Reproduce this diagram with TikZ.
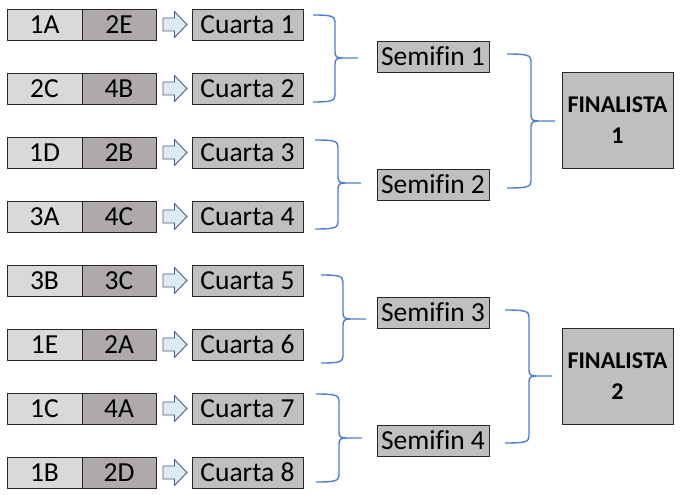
\documentclass[tikz,border=0pt]{standalone}
\usepackage{fontspec}
\setmainfont[Ligatures={NoCommon}]{Carlito}
\usetikzlibrary{calc}
\definecolor{lightc}{HTML}{D9D9D9}
\definecolor{darkc}{HTML}{AEAAAA}
\definecolor{midc}{HTML}{BFBFBF}
\definecolor{arrowf}{HTML}{DEEBF7}
\definecolor{arrowd}{HTML}{4A5F7E}
\definecolor{bracec}{HTML}{4F7FD0}
\newcommand\curly[6]{%
  \draw[brc] (#1,#4) .. controls (#2-4,#4) and (#2,#4+1) .. (#2,#4+7)
    -- (#2,#5-6) .. controls (#2,#5-1) and (#2+2,#5) .. (#2+8,#5) -- (#3,#5)
    (#2+8,#5) .. controls (#2+2,#5) and (#2,#5+1) .. (#2,#5+6)
    -- (#2,#6-7) .. controls (#2,#6-1) and (#2-4,#6) .. (#1,#6);}
\begin{document}
\begin{tikzpicture}[x=1pt,y=-1pt,
  cell/.style={draw=black!85,line width=0.9pt,inner sep=0pt,minimum height=31pt,
    font=\fontsize{27.5}{30}\selectfont},
  light/.style={cell,fill=lightc,minimum width=75pt},
  dark/.style={cell,fill=darkc,minimum width=74pt},
  quarter/.style={cell,fill=midc,minimum width=111pt},
  semi/.style={cell,fill=midc,minimum width=112pt},
  finbox/.style={cell,fill=midc,minimum width=111pt,minimum height=96pt,align=center,
    font=\fontsize{24}{31}\selectfont\bfseries},
  brc/.style={draw=bracec,line width=1.4pt},
  blk/.style={draw=arrowd,fill=arrowf,line width=0.9pt,line join=miter}]
\path[use as bounding box] (0,0) rectangle (681,495);
\foreach \p/\q/\i in {1A/2E/1,2C/4B/2,1D/2B/3,3A/4C/4,3B/3C/5,1E/2A/6,1C/4A/7,1B/2D/8}{
  \pgfmathsetmacro\yy{24.5+64*(\i-1)}
  \node[light] (a\i) at (44.5,\yy) {\p};
  \node[dark] (b\i) at (119,\yy) {\q};
  \node[quarter] (c\i) at (247.5,\yy) {Cuarta \i};
  \draw[blk,shift={(b\i.east)}] (6.5,-6.5) -- (18,-6.5) -- (18,-13) -- (30.5,0)
     -- (18,13) -- (18,6.5) -- (6.5,6.5) -- cycle;
}
\node[semi] (s1) at (433,56.5) {Semifin 1};
\node[semi] (s2) at (433,184.5) {Semifin 2};
\node[semi] (s3) at (433,312.5) {Semifin 3};
\node[semi] (s4) at (433,440.5) {Semifin 4};
\node[finbox] (f1) at (617.5,120) {FINALISTA\\1};
\node[finbox] (f2) at (617.5,376) {FINALISTA\\2};
\curly{313}{335}{358}{15}{58}{102}
\curly{315}{338}{361}{140}{183}{229}
\curly{321}{343}{366}{275}{319}{363}
\curly{316}{339}{362}{394}{438}{482}
\curly{507}{531}{555}{54}{121}{188}
\curly{505}{529}{552}{310}{376}{443}
\end{tikzpicture}
\end{document}
